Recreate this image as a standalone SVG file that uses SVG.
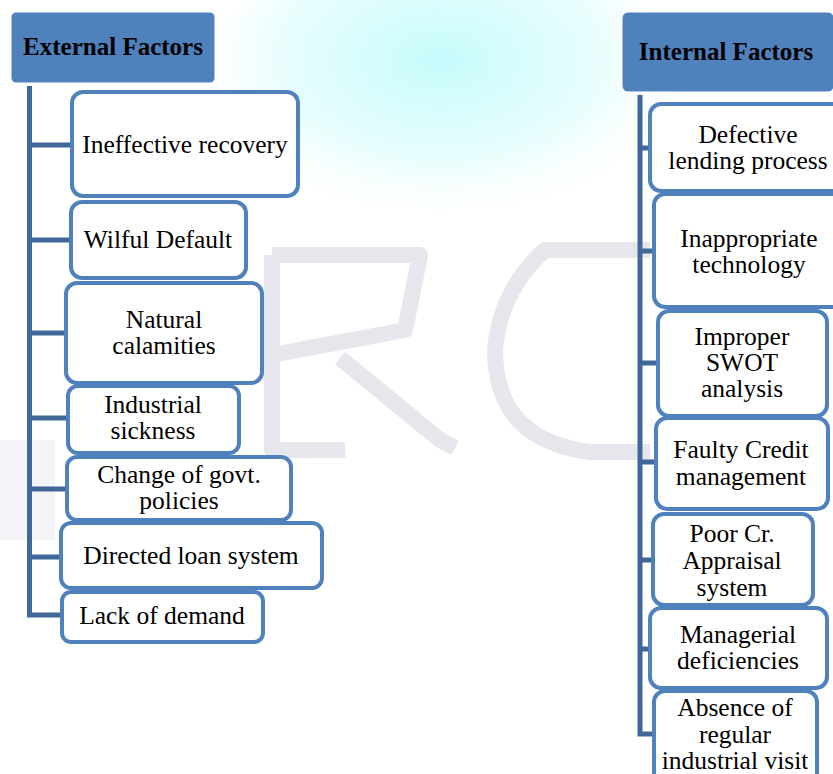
<svg xmlns="http://www.w3.org/2000/svg" width="833" height="774" viewBox="0 0 833 774">
<defs>
<radialGradient id="glow" cx="0.5" cy="0.4" r="0.55">
<stop offset="0" stop-color="#c2fbfb" stop-opacity="0.95"/>
<stop offset="0.6" stop-color="#d8fcfc" stop-opacity="0.6"/>
<stop offset="1" stop-color="#ffffff" stop-opacity="0"/>
</radialGradient>
<style>
.hdr{fill:#4f81bd;stroke:#ffffff;stroke-width:3}
.hdt{font-family:"Liberation Serif","Times New Roman",serif;font-weight:bold;font-size:25px;fill:#000;text-anchor:middle}
.box{fill:#ffffff;stroke:#4f81bd;stroke-width:4}
.t{font-family:"Liberation Serif","Times New Roman",serif;font-size:25.5px;fill:#000;text-anchor:middle}
.con{fill:none;stroke:#3f6899;stroke-width:5;stroke-linejoin:miter}
.wm{fill:none;stroke:#cfd3dd;stroke-opacity:0.55;stroke-width:16;stroke-linejoin:round}
</style>
</defs>
<rect width="833" height="774" fill="#ffffff"/>
<g id="watermark">
<ellipse cx="440" cy="90" rx="240" ry="150" fill="url(#glow)"/>
<path class="wm" d="M272,255 L272,450 L345,450 M272,255 L420,255 L405,330 L272,355 M340,358 L440,440 L455,448"/>
<path class="wm" d="M650,250 L545,250 Q500,290 495,350 Q495,440 590,452 L650,452"/>
<rect x="0" y="440" width="55" height="100" fill="#dcdcea" opacity="0.35"/>
</g>
<g id="connectors">
<path class="con" d="M29.5,86 V615 H62"/>
<path class="con" d="M29.5,145 H72 M29.5,240 H71 M29.5,333 H66 M29.5,418 H68 M29.5,489 H67 M29.5,557 H61"/>
<path class="con" d="M640,95 V734 H653"/>
<path class="con" d="M640,148 H650 M640,251 H653 M640,363 H657 M640,462 H655 M640,560 H652 M640,649 H649"/>
</g>
<g id="external-factors">
<rect class="hdr" x="10" y="11" width="206" height="73" rx="6"/>
<text class="hdt" x="113" y="55">External Factors</text>
</g>
<g id="ineffective-recovery">
<rect class="box" x="72" y="92" width="226" height="104" rx="11"/>
<text class="t" x="185" y="153">Ineffective recovery</text>
</g>
<g id="wilful-default">
<rect class="box" x="71" y="202" width="175" height="76" rx="11"/>
<text class="t" x="158" y="248">Wilful Default</text>
</g>
<g id="natural-calamities">
<rect class="box" x="66" y="283" width="196" height="100" rx="11"/>
<text class="t" x="164" y="328">Natural</text>
<text class="t" x="164" y="354">calamities</text>
</g>
<g id="industrial-sickness">
<rect class="box" x="68" y="386" width="171" height="67" rx="10"/>
<text class="t" x="153" y="413">Industrial</text>
<text class="t" x="153" y="439">sickness</text>
</g>
<g id="change-of-govt-policies">
<rect class="box" x="67" y="457" width="224" height="63" rx="10"/>
<text class="t" x="179" y="483">Change of govt.</text>
<text class="t" x="179" y="509">policies</text>
</g>
<g id="directed-loan-system">
<rect class="box" x="61" y="523" width="261" height="65" rx="10"/>
<text class="t" x="191" y="564">Directed loan system</text>
</g>
<g id="lack-of-demand">
<rect class="box" x="62" y="592" width="201" height="50" rx="9"/>
<text class="t" x="162" y="624">Lack of demand</text>
</g>
<g id="internal-factors">
<rect class="hdr" x="621" y="11" width="214" height="82" rx="7"/>
<text class="hdt" x="726" y="60">Internal Factors</text>
</g>
<g id="defective-lending-process">
<rect class="box" x="650" y="104" width="195" height="87" rx="11"/>
<text class="t" x="748" y="143">Defective</text>
<text class="t" x="748" y="169">lending process</text>
</g>
<g id="inappropriate-technology">
<rect class="box" x="654" y="194" width="190" height="113" rx="11"/>
<text class="t" x="749" y="247">Inappropriate</text>
<text class="t" x="749" y="273">technology</text>
</g>
<g id="improper-swot-analysis">
<rect class="box" x="658" y="311" width="169" height="105" rx="11"/>
<text class="t" x="742" y="345">Improper</text>
<text class="t" x="742" y="371">SWOT</text>
<text class="t" x="742" y="397">analysis</text>
</g>
<g id="faulty-credit-management">
<rect class="box" x="656" y="418" width="172" height="91" rx="11"/>
<text class="t" x="741" y="458">Faulty Credit</text>
<text class="t" x="741" y="485">management</text>
</g>
<g id="poor-cr-appraisal-system">
<rect class="box" x="653" y="514" width="160" height="91" rx="11"/>
<text class="t" x="732" y="542">Poor Cr.</text>
<text class="t" x="732" y="569">Appraisal</text>
<text class="t" x="732" y="596">system</text>
</g>
<g id="managerial-deficiencies">
<rect class="box" x="650" y="608" width="177" height="80" rx="11"/>
<text class="t" x="738" y="643">Managerial</text>
<text class="t" x="738" y="669">deficiencies</text>
</g>
<g id="absence-of-regular-industrial-visit">
<rect class="box" x="654" y="691" width="163" height="100" rx="11"/>
<text class="t" x="735" y="716">Absence of</text>
<text class="t" x="735" y="743">regular</text>
<text class="t" x="735" y="769">industrial visit</text>
</g>
</svg>
